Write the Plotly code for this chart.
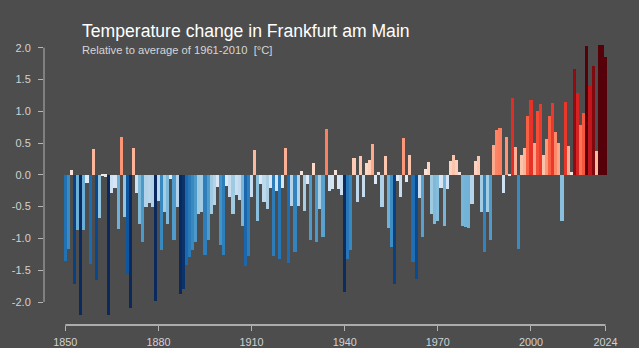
import plotly.graph_objects as go

years = list(range(1850, 2025))

anomaly = [
    -1.36, -1.16, 0.08, -1.71, -0.86, -2.21, -0.87, -0.13, -1.40, 0.40,   # 1850-1859
    -1.66, -0.68, -0.01, -0.03, -2.21, -0.29, -0.20, -0.85, 0.60, -0.67,  # 1860-1869
    -1.56, -2.10, 0.42, -0.29, -0.77, -1.05, -0.50, -0.45, -0.50, -1.98,  # 1870-1879
    -0.41, -1.18, -0.58, -0.77, -0.07, -1.03, -0.50, -1.87, -1.80, -1.42, # 1880-1889
    -1.29, -1.18, -1.05, -0.62, -0.59, -1.26, -1.03, -0.61, -0.48, -0.19, # 1890-1899
    -1.10, -1.26, -0.17, -0.35, -0.61, -0.32, -0.40, -0.80, -1.43, -1.27, # 1900-1909
    -0.35, 0.39, -0.72, -0.15, -0.42, -0.54, -0.20, -1.27, -0.26, -1.33,  # 1910-1919
    -0.20, 0.43, -1.39, -0.49, -1.22, -0.49, 0.06, -0.57, -0.15, -1.03,   # 1920-1929
    0.18, -1.05, -0.54, -0.97, 0.72, -0.26, -0.23, 0.07, -0.22, -0.31,    # 1930-1939
    -1.84, -1.32, -1.18, 0.27, -0.43, 0.29, -0.35, 0.19, 0.24, 0.48,      # 1940-1949
    -0.15, 0.04, -0.51, 0.30, -0.84, -1.14, -1.71, -0.10, -0.35, 0.58,    # 1950-1959
    -0.12, 0.31, -1.37, -1.64, -0.36, -0.98, 0.09, 0.20, -0.62, -0.77,    # 1960-1969
    -0.73, -0.21, -0.81, -0.23, 0.22, 0.31, 0.23, 0.04, -0.81, -0.82,     # 1970-1979
    -0.83, -0.46, 0.22, 0.30, -0.59, -1.22, -0.58, -1.03, 0.47, 0.71,     # 1980-1989
    0.74, -0.29, 0.59, -0.01, 1.21, 0.44, -1.16, 0.32, 0.42, 0.92,        # 1990-1999
    1.17, 0.50, 1.01, 1.12, 0.32, 0.57, 0.92, 1.13, 0.67, 0.50,           # 2000-2009
    -0.72, 1.14, 0.45, 0.05, 1.67, 1.28, 0.79, 0.97, 2.02, 1.42,          # 2010-2019
    1.72, 0.37, 2.05, 2.05, 1.85,                                         # 2020-2024
]

y_ticks = [-2.0, -1.5, -1.0, -0.5, 0.0, 0.5, 1.0, 1.5, 2.0]
y_ticktext = ["-2.0", "-1.5", "-1.0", "-0.5", "0.0", "0.5", "1.0", "1.5", "2.0"]
x_ticks = [1850, 1880, 1910, 1940, 1970, 2000, 2024]

stripes = ['#0a2a5e', '#08519c', '#2171b5', '#4292c6', '#6baed6', '#9ecae1',
           '#c6dbef', '#deebf7', '#fee0d2', '#fcbba1', '#fc9272', '#fb6a4a',
           '#ef3b2c', '#cb181d', '#a50f15', '#560009']
colorscale = [[i / (len(stripes) - 1), c] for i, c in enumerate(stripes)]

BG = '#4d4d4d'
AXIS = '#b4b4b4'
TXT = '#d2d2d2'
FONT = 'Liberation Sans, Arial, sans-serif'

fig = go.Figure(go.Bar(
    x=years, y=anomaly, width=1.0,
    marker=dict(color=anomaly, colorscale=colorscale, cmin=-1.85, cmax=1.85,
                line=dict(width=0)),
    hoverinfo='x+y', showlegend=False,
))

fig.update_layout(
    width=639, height=348,
    paper_bgcolor=BG, plot_bgcolor=BG,
    margin=dict(l=44, r=19, t=20, b=23, pad=0, autoexpand=False),
    bargap=0,
    font=dict(family=FONT, color=TXT, size=11),
    xaxis=dict(range=[1843.14, 2028.67], showgrid=False, zeroline=False,
               showline=False, tickmode='array', tickvals=x_ticks,
               ticks='outside', ticklen=5, tickwidth=1, tickcolor=AXIS,
               tickfont=dict(size=10.8, color=TXT), ticklabelstandoff=2,
               automargin=False),
    yaxis=dict(range=[-2.3618, 2.4357], showgrid=False, zeroline=False,
               showline=False, tickmode='array', tickvals=y_ticks,
               ticktext=y_ticktext, ticks='outside', ticklen=5, tickwidth=1,
               tickcolor=AXIS, tickfont=dict(size=11, color=TXT),
               ticklabelstandoff=5, automargin=False),
    shapes=[
        dict(type='line', xref='x', yref='paper', x0=1850, x1=2024, y0=0, y1=0,
             line=dict(color='#cccccc', width=1.5)),
        dict(type='line', xref='paper', yref='y', x0=0, x1=0, y0=-2.0, y1=2.0,
             line=dict(color=AXIS, width=1)),
    ],
    annotations=[
        dict(text='Temperature change in Frankfurt am Main', xref='paper', yref='paper',
             x=(80 - 44) / 576, y=(325 - 31) / 305, xanchor='left', yanchor='middle',
             showarrow=False, font=dict(size=17.6, color='#ffffff', family=FONT)),
        dict(text='Relative to average of 1961-2010 \u00a0[°C]', xref='paper', yref='paper',
             x=(80 - 44) / 576, y=(325 - 49.5) / 305, xanchor='left', yanchor='middle',
             showarrow=False, font=dict(size=11.2, color='#d6d6d6', family=FONT)),
    ],
)

fig.write_html("out.html")
